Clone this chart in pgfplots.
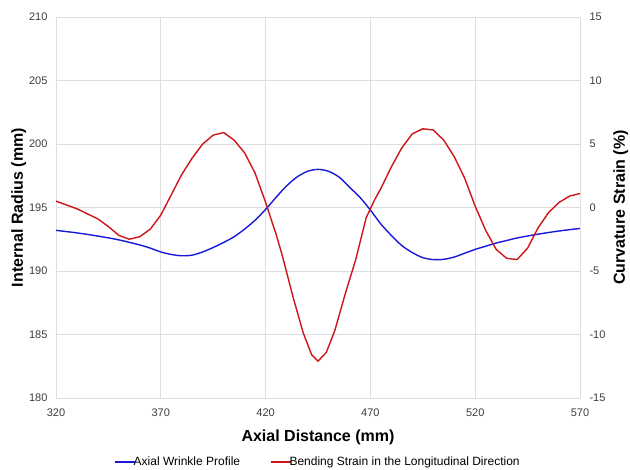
\documentclass[border=0pt]{standalone}
\usepackage{fontspec}
\setmainfont{Liberation Sans}
\usepackage{pgfplots}
\pgfplotsset{compat=1.18}
\definecolor{gridgray}{RGB}{222,222,222}
\definecolor{tickgray}{RGB}{60,60,60}
\definecolor{bl}{RGB}{25,25,220}
\definecolor{rd}{RGB}{205,20,25}
\begin{document}
\begin{tikzpicture}[x=1pt,y=1pt]
\useasboundingbox (-56,-72) rectangle (574,398);
\begin{axis}[scale only axis, width=524pt, height=381pt, at={(0,0)}, anchor=south west,
  xmin=320, xmax=570, ymin=180, ymax=210,
  xtick={320,370,...,570}, ytick={180,185,...,210},
  grid=major, major grid style={gridgray, line width=0.7pt},
  axis line style={gridgray, line width=0.7pt}, tick style={draw=none},
  /pgf/number format/assume math mode=true,
  tick label style={font=\fontsize{11}{13}\selectfont, text=tickgray},
  xticklabel style={yshift=-7pt}, yticklabel style={xshift=-5pt},
  xlabel={Axial Distance (mm)}, ylabel={Internal Radius (mm)},
  label style={font=\fontsize{16}{18}\selectfont\bfseries},
  xlabel style={yshift=-7pt}, ylabel style={yshift=-4pt},
]
\addplot[bl, line width=1.4pt, smooth] coordinates {
(320,193.2)(330,193.0)(340,192.75)(350,192.45)(360,192.05)(365,191.8)(370,191.5)(375,191.3)(380,191.2)(385,191.25)(390,191.5)(395,191.85)(400,192.25)(405,192.7)(410,193.3)(415,194.0)(420,194.85)(425,195.8)(430,196.7)(435,197.4)(440,197.85)(445,198.0)(450,197.85)(455,197.4)(460,196.6)(465,195.8)(470,194.8)(475,193.7)(480,192.8)(485,192.0)(490,191.45)(495,191.05)(500,190.9)(505,190.92)(510,191.1)(515,191.4)(520,191.7)(525,191.95)(530,192.2)(535,192.4)(540,192.6)(550,192.9)(560,193.15)(570,193.35)
};
\end{axis}
\begin{axis}[scale only axis, width=524pt, height=381pt, at={(0,0)}, anchor=south west,
  xmin=320, xmax=570, ymin=-15, ymax=15,
  axis x line=none, axis y line*=right, axis line style={draw=none},
  ytick={-15,-10,...,15}, tick style={draw=none},
  /pgf/number format/assume math mode=true,
  tick label style={font=\fontsize{11}{13}\selectfont, text=tickgray},
  yticklabel style={xshift=6pt},
  ylabel={Curvature Strain (\%)},
  label style={font=\fontsize{16}{18}\selectfont\bfseries},
  ylabel style={yshift=-1pt},
  legend style={at={(0.5,0)}, anchor=center, yshift=-64pt, draw=none, fill=none,
    legend columns=2, font=\fontsize{12}{14}\selectfont,
    /tikz/every even column/.append style={column sep=28pt}},
  legend cell align=left,
  legend image code/.code={\draw[#1] (0pt,0pt)--(20pt,0pt);},
]
\addlegendimage{bl, line width=1.4pt}
\addlegendentry{\hspace{-4pt}Axial Wrinkle Profile}
\addplot[rd, line width=1.4pt] coordinates {
(320,0.5)(325,0.2)(330,-0.1)(335,-0.5)(340,-0.9)(345,-1.5)(350,-2.2)(355,-2.5)(360,-2.3)(365,-1.7)(370,-0.6)(375,1.0)(380,2.6)(385,3.9)(390,5.0)(395,5.7)(400,5.9)(405,5.3)(410,4.3)(415,2.7)(420,0.4)(425,-2.1)(428,-3.8)(433,-7.0)(438,-9.9)(442,-11.6)(445,-12.1)(449,-11.4)(453,-9.7)(458,-6.8)(463,-4.1)(468,-0.8)(472,0.6)(475,1.5)(480,3.2)(485,4.7)(490,5.8)(495,6.2)(500,6.1)(505,5.3)(510,4.0)(515,2.3)(520,0.1)(525,-1.8)(530,-3.3)(535,-4.0)(540,-4.1)(545,-3.2)(550,-1.6)(555,-0.4)(560,0.4)(565,0.9)(570,1.1)
};
\addlegendentry{\hspace{-4pt}Bending Strain in the Longitudinal Direction}
\end{axis}
\end{tikzpicture}
\end{document}
